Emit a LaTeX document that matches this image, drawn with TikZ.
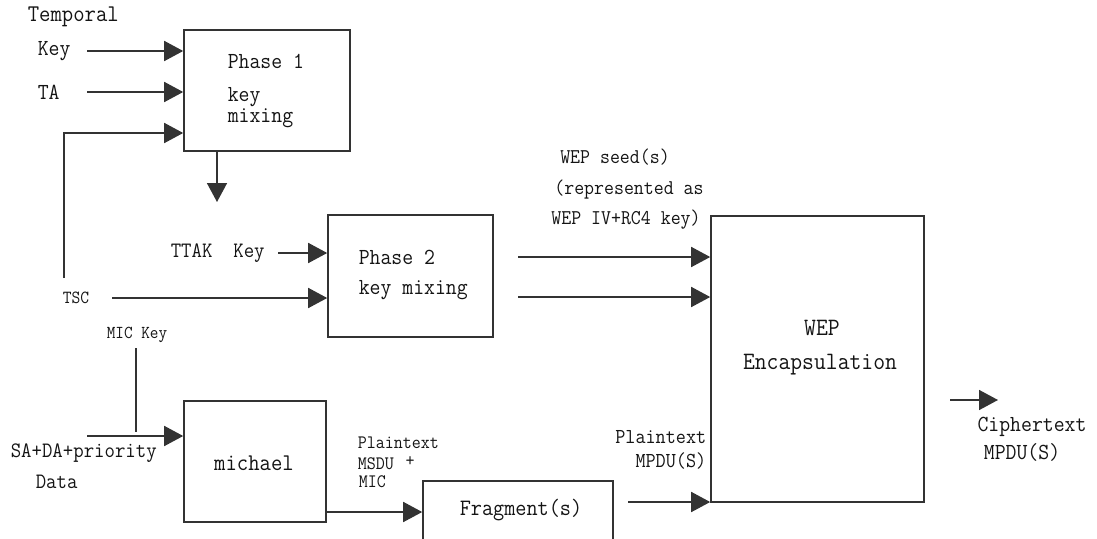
\documentclass[tikz,border=0pt]{standalone}
\usepackage{fontspec}
\setmonofont{Latin Modern Mono}[FakeStretch=0.92]
\usetikzlibrary{arrows.meta}
\begin{document}
\begin{tikzpicture}[x=1pt,y=-1pt,
  line width=1.6pt,
  fs/.style={font=\ttfamily\fontsize{#1}{#1}\selectfont},
  every node/.style={inner sep=0pt,fs=22,text=black!92},
  box/.style={draw=black!80,line width=1.6pt,fill=none,rectangle},
  arr/.style={draw=black!80,-{Triangle[length=19pt,width=20pt]}},
  ln/.style={draw=black!80}]
\useasboundingbox (0,0) rectangle (1097,538);
\clip (0,0) rectangle (1097,538);
% boxes
\node[box,minimum width=166pt,minimum height=121pt] (p1) at (267,90.5) {};
\node[box,minimum width=165pt,minimum height=122pt] (p2) at (410.5,276) {};
\node[box,minimum width=142pt,minimum height=121pt] (mi) at (255,461.5) {};
\node[box,minimum width=190pt,minimum height=80pt] (fr) at (518,521) {};
\node[box,minimum width=213pt,minimum height=286pt] (wep) at (817.5,359) {};
% texts
\node[anchor=west,fs=24] (tTemp) at (27,17) {Temporal};
\node[anchor=west,fs=23] (tKey) at (37,51) {Key};
\node[anchor=west,fs=23] (tTA) at (37,92) {TA};
\node[anchor=west,fs=23] (tP1) at (227,61) {Phase 1};
\node[anchor=west,align=left,font=\ttfamily\fontsize{23}{21}\selectfont] (tKm1) at (227,108) {key\\mixing};
\node[anchor=west,fs=22] (tTTAK) at (170,253) {TTAK\ \ Key};
\node[anchor=west,fs=18.5] (tTSC) at (62,298) {TSC};
\node[anchor=west,fs=23] (tP2) at (358,257) {Phase 2};
\node[anchor=west,fs=23] (tKm2) at (358,290) {key mixing};
\node[fs=18.2] (tMIC) at (137,335) {MIC Key};
\node[anchor=west,fs=22] (tSA) at (10,453) {SA+DA+priority};
\node[anchor=west,fs=22] (tData) at (35,482) {Data};
\node[fs=24] (tMich) at (254,463) {michael};
\node[anchor=west,fs=19] (tPl1) at (357,443) {Plaintext};
\node[anchor=west,fs=19] (tMSDU) at (357,464) {MSDU};
\node[fs=19] (tPlus) at (410,461) {+};
\node[anchor=west,fs=19] (tMICb) at (358,482) {MIC};
\node[fs=23.5] (tFrag) at (521,510) {Fragment(s)};
\node[anchor=east,fs=21.3] (tPl2) at (707,437) {Plaintext};
\node[anchor=east,fs=21.3] (tMPDU) at (707,461) {MPDU(S)};
\node[fs=21] (tSeed1) at (615,157) {WEP seed(s)};
\node[fs=21] (tSeed2) at (629,190) {(represented as};
\node[fs=21] (tSeed3) at (626,220) {WEP IV+RC4 key)};
\node[fs=25] (tWEP) at (822,328) {WEP};
\node[fs=25] (tEnc) at (820,365) {Encapsulation};
\node[fs=23] (tCiph) at (1032,427) {Ciphertext};
\node[fs=23] (tCMPDU) at (1022,452) {MPDU(S)};
% free ends
\coordinate (cKey) at (87,51);
\coordinate (cTA) at (87,92);
\coordinate (cFb) at (64,278);
\coordinate (cFbTop) at (64,133);
\coordinate (cDown) at (217,202);
\coordinate (cTTAK) at (278,253);
\coordinate (cTSC) at (112,298);
\coordinate (cS1) at (518,257);
\coordinate (cS2) at (518,297);
\coordinate (cMICt) at (136,348);
\coordinate (cMICb) at (136,432);
\coordinate (cSA) at (87,436);
\coordinate (cFrOut) at (628,502);
\coordinate (cMiOut) at (326,512);
\coordinate (cC1) at (950,400);
\coordinate (cC2) at (998,400);
% connectors
\draw[arr] (cKey) -- (cKey -| p1.west);
\draw[arr] (cTA) -- (cTA -| p1.west);
\draw[arr] (cFb) -- (cFbTop) -- (cFbTop -| p1.west);
\draw[arr] (cDown |- p1.south) -- (cDown);
\draw[arr] (cTTAK) -- (cTTAK -| p2.west);
\draw[arr] (cTSC) -- (cTSC -| p2.west);
\draw[arr] (cS1) -- (cS1 -| wep.west);
\draw[arr] (cS2) -- (cS2 -| wep.west);
\draw[ln] (cMICt) -- (cMICb);
\draw[arr] (cSA) -- (cSA -| mi.west);
\draw[arr] (cMiOut) -- (cMiOut -| fr.west);
\draw[arr] (cFrOut) -- (cFrOut -| wep.west);
\draw[arr] (cC1) -- (cC2);
\end{tikzpicture}
\end{document}
